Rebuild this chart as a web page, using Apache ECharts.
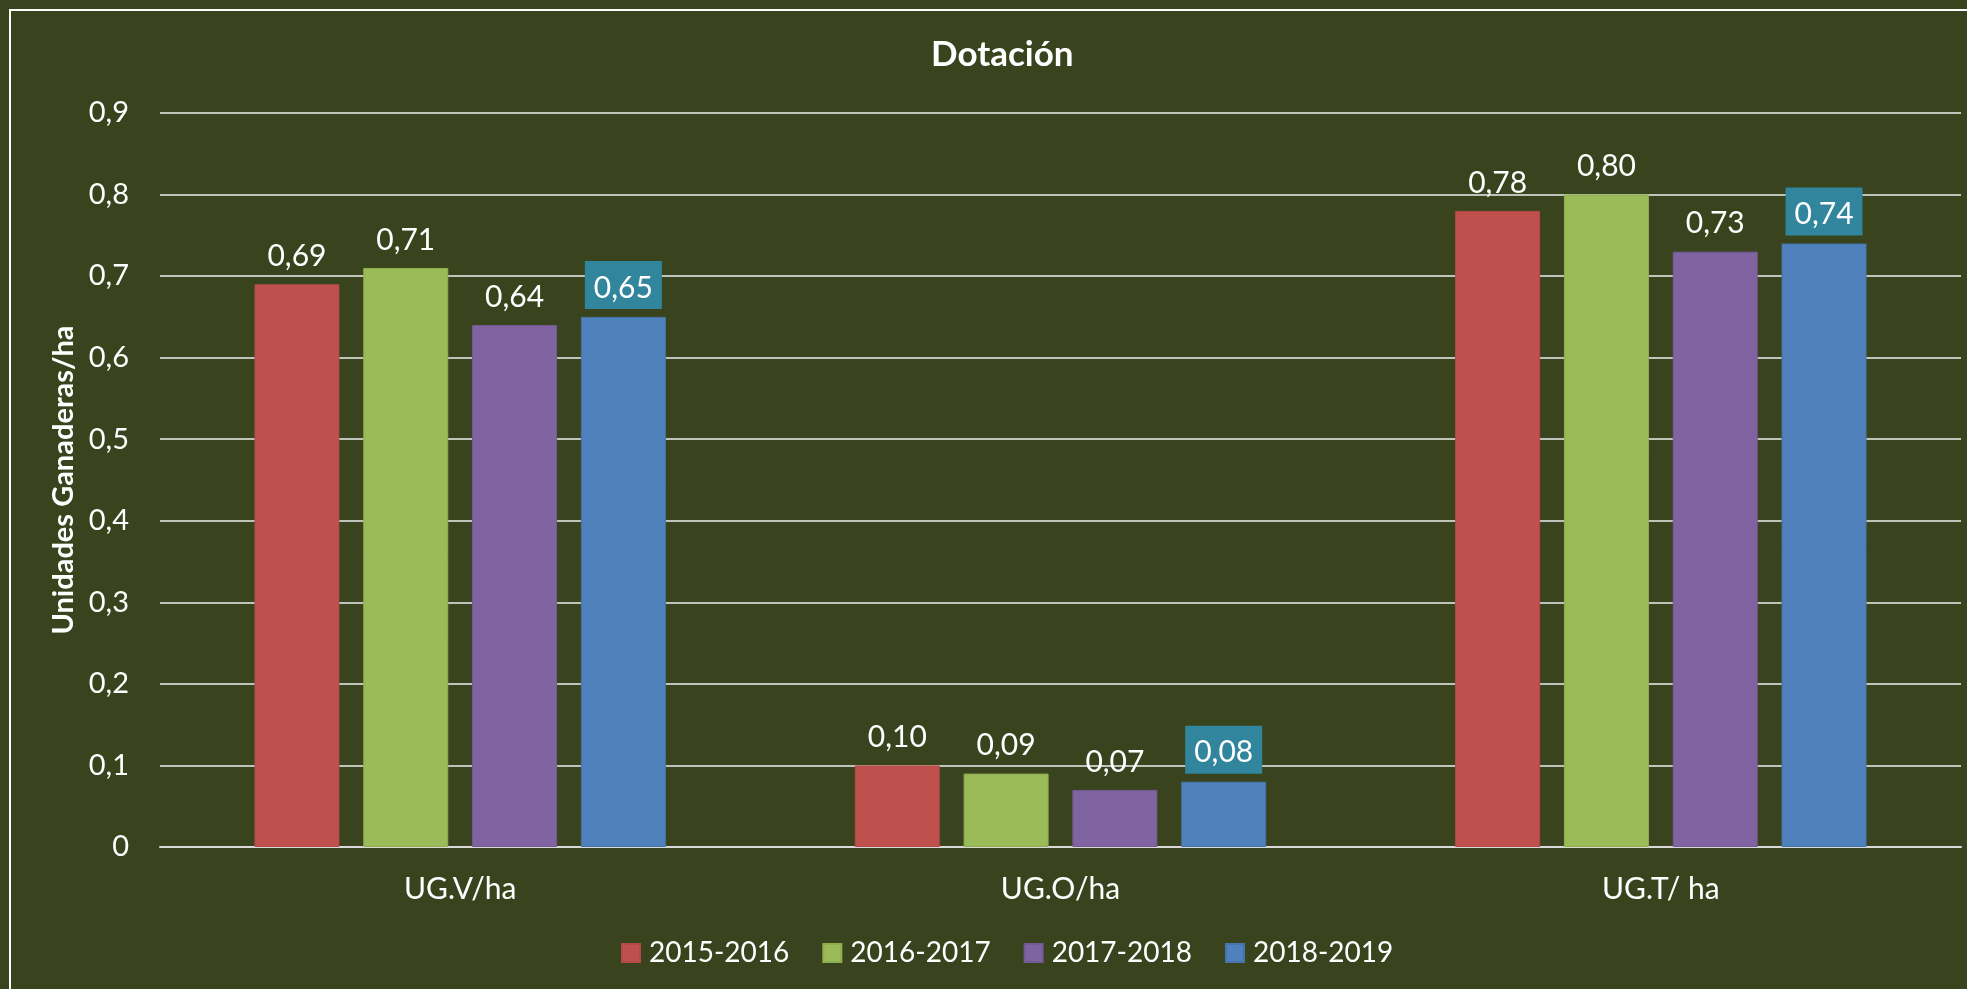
<!DOCTYPE html>
<html>
<head>
<meta charset="utf-8">
<script src="https://cdn.jsdelivr.net/npm/echarts@6/dist/echarts.min.js"></script>
<style>
  html, body { margin: 0; padding: 0; background: #39441e; }
  #chart { width: 1967px; height: 989px; }
</style>
</head>
<body>
<div id="chart"></div>
<script>
// data
const categories = ['UG.V/ha', 'UG.O/ha', 'UG.T/ ha']
const seriesNames = ['2015-2016', '2016-2017', '2017-2018', '2018-2019']
const values2015 = [0.69, 0.10, 0.78]
const values2016 = [0.71, 0.09, 0.80]
const values2017 = [0.64, 0.07, 0.73]
const values2018 = [0.65, 0.08, 0.74]

const colors = ['#c0504d', '#9bbb59', '#8064a2', '#4f81bd']
const borders = ['#b24a47', '#8faf4f', '#745a95', '#4674ab']
const font = 'Lato'

const comma = (v, digits) => v.toFixed(digits).replace('.', ',')

function makeSeries(name, data, i) {
  let label = {
    show: true,
    position: 'top',
    distance: 13,
    color: '#ffffff',
    fontFamily: font,
    fontSize: 30,
    formatter: p => comma(p.value, 2)
  }
  // last series has its labels in a teal box
  if (i === 3) {
    label.backgroundColor = '#31859c'
    label.padding = [12, 9, 6, 9]
    label.distance = 8
  }
  return {
    name: name,
    type: 'bar',
    data: data,
    barWidth: 85,
    barGap: '28%',
    itemStyle: { color: colors[i], borderColor: borders[i], borderWidth: 1 },
    label: label
  }
}

var myChart = echarts.init(document.getElementById('chart'))
myChart.setOption({
  backgroundColor: '#39441e',
  animation: false,
  title: {
    text: 'Dotación',
    left: 926,
    top: 32,
    textStyle: { color: '#ffffff', fontFamily: font, fontWeight: 'bold', fontSize: 35 }
  },
  graphic: [
    {
      type: 'rect',
      shape: { x: 10, y: 10, width: 2000, height: 1000 },
      style: { fill: 'none', stroke: '#ffffff', lineWidth: 2 },
      silent: true
    }
  ],
  grid: { left: 160, right: 6, top: 113, bottom: 142 },
  legend: {
    data: seriesNames,
    left: 616,
    top: 934,
    itemWidth: 18,
    itemHeight: 18,
    itemGap: 33,
    icon: 'rect',
    textStyle: { color: '#ffffff', fontFamily: font, fontSize: 28, padding: [0, 0, 0, 4] }
  },
  xAxis: {
    type: 'category',
    data: categories,
    axisTick: { show: false },
    axisLine: { lineStyle: { color: '#d9d9d9', width: 2 } },
    axisLabel: { color: '#ffffff', fontFamily: font, fontSize: 30, margin: 27 }
  },
  yAxis: {
    type: 'value',
    min: 0,
    max: 0.9,
    interval: 0.1,
    name: 'Unidades Ganaderas/ha',
    nameLocation: 'middle',
    nameGap: 82,
    nameTextStyle: { color: '#ffffff', fontFamily: font, fontWeight: 'bold', fontSize: 29 },
    axisLine: { show: false },
    axisTick: { show: false },
    splitLine: { lineStyle: { color: '#eeeeee', width: 1.5 } },
    axisLabel: {
      color: '#ffffff',
      fontFamily: font,
      fontSize: 29,
      margin: 31,
      formatter: v => v === 0 ? '0' : comma(v, 1)
    }
  },
  series: [
    makeSeries(seriesNames[0], values2015, 0),
    makeSeries(seriesNames[1], values2016, 1),
    makeSeries(seriesNames[2], values2017, 2),
    makeSeries(seriesNames[3], values2018, 3)
  ]
})
</script>
</body>
</html>
